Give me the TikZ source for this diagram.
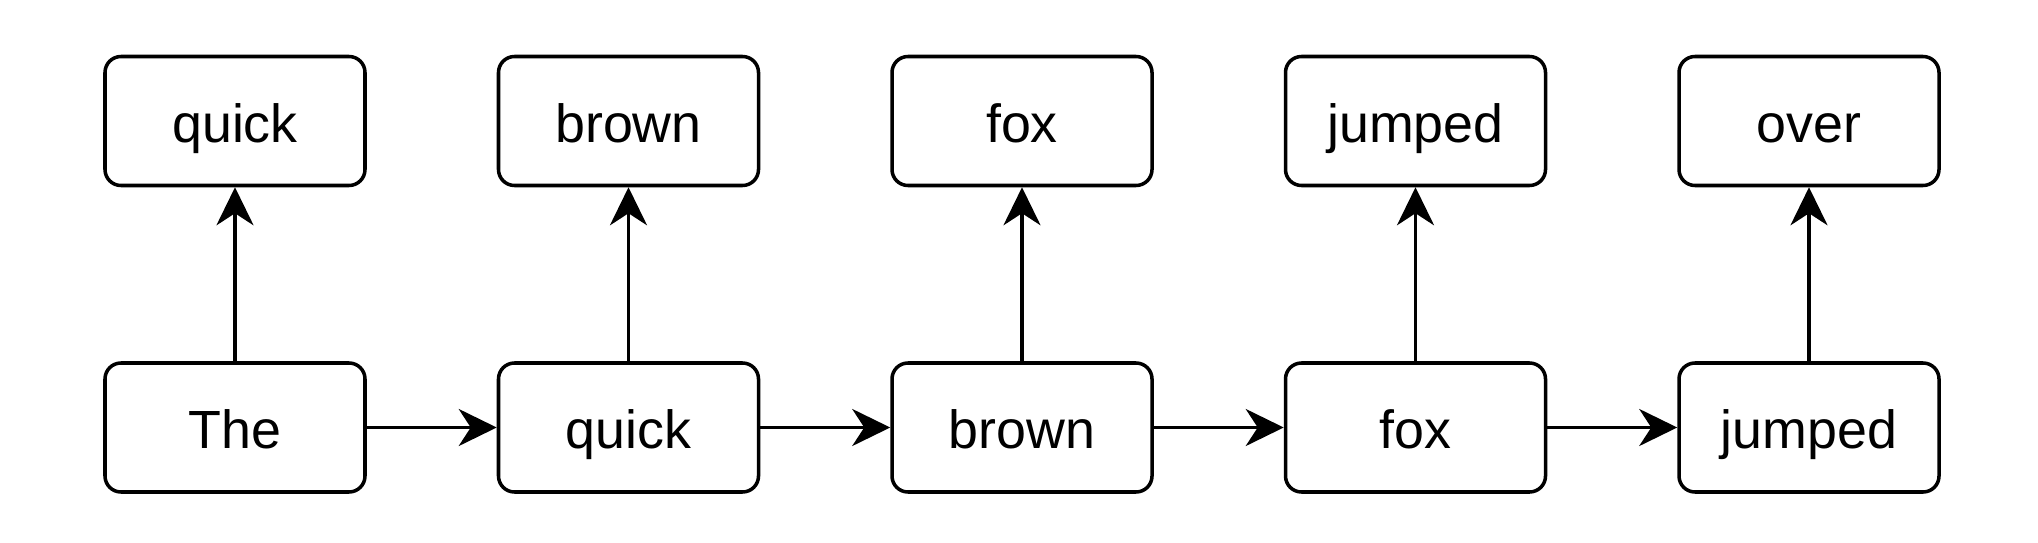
\documentclass[tikz,border=0pt]{standalone}
\usepackage{fontspec}
\setmainfont{Liberation Sans}
\usetikzlibrary{arrows.meta}

\begin{document}
\begin{tikzpicture}[
		word/.style={draw, line width=1pt, rounded corners=0.16cm, minimum width=2.6cm, minimum height=1.29cm, inner sep=0pt, text height=14pt, text depth=2pt, font=\fontsize{15.3}{18}\selectfont},
		link/.style={line width=1pt, -{Stealth[length=3.8mm, width=3.7mm, inset=1.2mm]}}
	]
		%%%%% START %%%%%
		
		\useasboundingbox (0, 0) rectangle (20.38, 5.42);
		
		% input words
		\node[word] (in1) at (2.35, 1.145) {The};
		\node[word] (in2) at (6.285, 1.145) {quick};
		\node[word] (in3) at (10.22, 1.145) {brown};
		\node[word] (in4) at (14.155, 1.145) {fox};
		\node[word] (in5) at (18.09, 1.145) {jumped};
		
		% predicted words
		\node[word] (out1) at (2.35, 4.21) {quick};
		\node[word] (out2) at (6.285, 4.21) {brown};
		\node[word] (out3) at (10.22, 4.21) {fox};
		\node[word] (out4) at (14.155, 4.21) {jumped};
		\node[word] (out5) at (18.09, 4.21) {over};
		
		\draw[link] (in1) -- (in2);
		\draw[link] (in2) -- (in3);
		\draw[link] (in3) -- (in4);
		\draw[link] (in4) -- (in5);
		
		\draw[link] (in1) -- (out1);
		\draw[link] (in2) -- (out2);
		\draw[link] (in3) -- (out3);
		\draw[link] (in4) -- (out4);
		\draw[link] (in5) -- (out5);
		
		%%%%% END %%%%%
	\end{tikzpicture}
\end{document}
